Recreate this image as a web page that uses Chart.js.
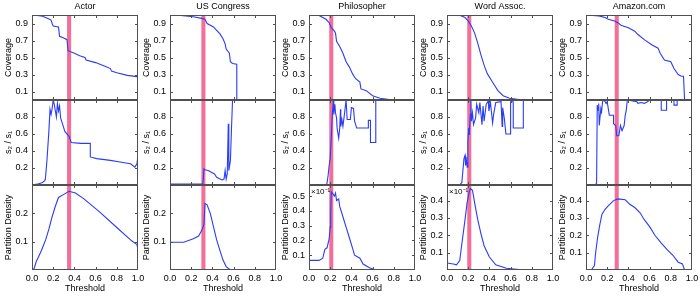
<!DOCTYPE html>
<html>
<head>
<meta charset="utf-8">
<script src="https://cdn.jsdelivr.net/npm/chart.js@4.4.1/dist/chart.umd.min.js"></script>
<style>
body { margin: 0; background: #fff; width: 700px; height: 300px; position: relative; overflow: hidden; }
.panel { position: absolute; }
</style>
</head>
<body>
<script>
// column titles and threshold marker (pink band) per column
var columns = ['Actor', 'US Congress', 'Philosopher', 'Word Assoc.', 'Amazon.com'];
var bandCenter = [0.35, 0.315, 0.21, 0.21, 0.29];
var rowTitles = ['Coverage', 's\u2082 / s\u2081', 'Partition Density'];

// y tick labels
var coverageTicks = [0.1, 0.3, 0.5, 0.7, 0.9];
var ratioTicks = [0.2, 0.4, 0.6, 0.8];
var densityTicks = [[0.1, 0.2], [0.1, 0.2], [0.1, 0.2, 0.3, 0.4, 0.5], [0.1, 0.2, 0.3, 0.4], [0.1, 0.2, 0.3, 0.4]];
var densityMax = [0.3, 0.3, 0.575, 0.49, 0.49];
var xTickStep = 0.2;

// Actor
var actorCov = [[0,1.0],[0.05,0.995],[0.1,0.985],[0.15,0.96],[0.18,0.94],[0.19,0.9],[0.2,0.87],[0.25,0.86],[0.26,0.75],[0.3,0.73],[0.33,0.71],[0.34,0.58],[0.4,0.55],[0.45,0.52],[0.5,0.5],[0.51,0.47],[0.6,0.44],[0.7,0.39],[0.74,0.37],[0.75,0.34],[0.8,0.32],[0.9,0.29],[0.99,0.275],[1.0,0.27],[1.0,0]];
var actorRatio = [[0,0],[0.05,0.01],[0.1,0.03],[0.12,0.05],[0.126,0.07],[0.14,0.27],[0.157,0.59],[0.167,0.81],[0.17,0.89],[0.18,0.83],[0.19,0.9],[0.2,1.0],[0.21,0.95],[0.23,0.8],[0.24,0.96],[0.25,0.87],[0.26,0.93],[0.27,0.79],[0.29,0.71],[0.31,0.63],[0.35,0.57],[0.37,0.5],[0.46,0.49],[0.55,0.49],[0.55,0.33],[0.61,0.31],[0.74,0.29],[0.83,0.27],[0.93,0.25],[0.97,0.21],[0.99,0.25],[0.995,0.3],[1.0,0.31]];
var actorDens = [[0,0],[0.02,0.005],[0.04,0.03],[0.06,0.045],[0.09,0.07],[0.13,0.108],[0.16,0.145],[0.19,0.188],[0.22,0.225],[0.25,0.256],[0.3,0.267],[0.35,0.278],[0.41,0.272],[0.49,0.251],[0.64,0.204],[0.8,0.15],[0.94,0.103],[0.99,0.09],[1.0,0.07],[1.0,0]];

// US Congress
var congCov = [[0,1.0],[0.1,0.995],[0.22,0.98],[0.3,0.96],[0.33,0.95],[0.35,0.9],[0.41,0.86],[0.44,0.82],[0.47,0.78],[0.5,0.72],[0.52,0.66],[0.53,0.6],[0.56,0.55],[0.57,0.45],[0.59,0.43],[0.63,0.42],[0.63,0],[1.0,0]];
var congRatio = [[0,0.01],[0.2,0.01],[0.31,0.01],[0.32,0.19],[0.33,0.18],[0.36,0.17],[0.39,0.15],[0.42,0.13],[0.44,0.09],[0.49,0.06],[0.51,0.07],[0.52,0.17],[0.53,0.07],[0.54,0.13],[0.55,0.72],[0.555,0.17],[0.57,0.29],[0.58,0.66],[0.59,1.0],[0.6,1.0]];
var congDens = [[0,0.098],[0.13,0.098],[0.22,0.11],[0.27,0.12],[0.3,0.14],[0.31,0.15],[0.32,0.16],[0.33,0.235],[0.35,0.23],[0.38,0.2],[0.41,0.153],[0.44,0.106],[0.47,0.07],[0.5,0.035],[0.53,0.012],[0.57,0],[1.0,0]];

// Philosopher
var philCov = [[0,1.0],[0.095,0.995],[0.16,0.95],[0.19,0.91],[0.21,0.85],[0.24,0.81],[0.25,0.79],[0.26,0.69],[0.29,0.63],[0.32,0.55],[0.35,0.45],[0.38,0.39],[0.41,0.31],[0.44,0.25],[0.48,0.21],[0.49,0.13],[0.54,0.11],[0.6,0.05],[0.67,0.02],[0.76,0.005],[0.85,0],[1.0,0]];
var philRatio = [[0,0],[0.156,0],[0.17,0.02],[0.18,0.11],[0.19,0.23],[0.2,0.31],[0.21,0.55],[0.22,0.83],[0.23,0.99],[0.234,0.83],[0.244,0.95],[0.25,0.85],[0.26,0.79],[0.265,0.67],[0.28,0.55],[0.29,0.67],[0.297,0.89],[0.3,0.69],[0.31,0.77],[0.32,0.69],[0.33,0.79],[0.35,1.0],[0.36,0.77],[0.39,0.77],[0.4,0.91],[0.42,0.9],[0.43,0.75],[0.45,0.67],[0.56,0.67],[0.56,0.76],[0.58,0.76],[0.58,0.5],[0.63,0.5],[0.63,1.0],[0.8,1.0]];
var philDens = [[0,0.065],[0.095,0.065],[0.13,0.08],[0.15,0.14],[0.17,0.15],[0.19,0.21],[0.2,0.29],[0.205,0.38],[0.21,0.53],[0.22,0.52],[0.24,0.5],[0.25,0.52],[0.26,0.47],[0.28,0.48],[0.29,0.43],[0.32,0.36],[0.35,0.29],[0.38,0.22],[0.41,0.15],[0.43,0.1],[0.48,0.08],[0.51,0.04],[0.57,0.015],[0.63,0],[1.0,0]];

// Word Assoc.
var wordCov = [[0,1.0],[0.12,0.998],[0.17,0.97],[0.2,0.93],[0.23,0.87],[0.26,0.79],[0.29,0.67],[0.32,0.53],[0.35,0.41],[0.38,0.31],[0.42,0.23],[0.45,0.17],[0.48,0.11],[0.53,0.05],[0.59,0.02],[0.68,0.005],[0.74,0],[1.0,0]];
var wordRatio = [[0,0],[0.12,0],[0.14,0.03],[0.16,0.31],[0.17,0.35],[0.175,0.23],[0.18,0.33],[0.19,0.21],[0.197,0.51],[0.205,0.67],[0.21,0.59],[0.22,0.83],[0.225,0.99],[0.23,0.75],[0.24,0.85],[0.25,0.71],[0.27,0.79],[0.28,0.95],[0.3,0.85],[0.31,0.97],[0.33,0.71],[0.34,0.93],[0.35,0.75],[0.37,0.95],[0.39,0.99],[0.395,0.87],[0.41,0.97],[0.43,0.73],[0.44,0.83],[0.46,0.97],[0.51,0.98],[0.52,0.69],[0.525,0.91],[0.54,0.79],[0.556,0.6],[0.6,0.6],[0.6,0.98],[0.625,0.98],[0.625,0.67],[0.72,0.67],[0.72,1.0],[0.8,1.0]];
var wordDens = [[0,0.04],[0.06,0.035],[0.09,0.03],[0.12,0.055],[0.14,0.15],[0.17,0.29],[0.19,0.39],[0.21,0.45],[0.22,0.47],[0.24,0.46],[0.26,0.39],[0.29,0.29],[0.32,0.21],[0.35,0.14],[0.4,0.075],[0.46,0.03],[0.56,0.01],[0.68,0.003],[0.75,0],[1.0,0]];

// Amazon.com
var amzCov = [[0,1.0],[0.12,0.99],[0.18,0.97],[0.21,0.95],[0.27,0.93],[0.3,0.91],[0.33,0.88],[0.4,0.85],[0.46,0.81],[0.49,0.77],[0.55,0.71],[0.62,0.65],[0.68,0.61],[0.7,0.55],[0.74,0.47],[0.8,0.45],[0.83,0.37],[0.87,0.3],[0.9,0.28],[0.92,0.28],[0.93,0],[1.0,0]];
var amzRatio = [[0,0],[0.084,0],[0.1,0.02],[0.106,0.94],[0.115,0.88],[0.12,0.96],[0.125,0.7],[0.14,0.9],[0.147,0.86],[0.156,0.98],[0.17,1.0],[0.19,0.96],[0.2,0.98],[0.22,0.82],[0.26,0.82],[0.26,0.72],[0.28,0.7],[0.29,0.58],[0.31,0.58],[0.325,0.7],[0.34,0.64],[0.36,0.7],[0.37,0.82],[0.38,0.88],[0.39,1.0],[0.48,0.98],[0.49,0.96],[0.52,0.97],[0.55,0.96],[0.58,0.98],[0.6,1.0],[0.71,1.0],[0.71,0.88],[0.76,0.88],[0.76,1.0],[0.83,1.0],[0.83,0.94],[0.86,0.94],[0.86,1.0],[0.93,1.0]];
var amzDens = [[0,0],[0.05,0],[0.08,0.025],[0.09,0.095],[0.11,0.19],[0.13,0.26],[0.15,0.32],[0.18,0.35],[0.21,0.37],[0.26,0.4],[0.3,0.41],[0.37,0.405],[0.41,0.38],[0.46,0.36],[0.51,0.33],[0.55,0.29],[0.6,0.25],[0.65,0.2],[0.71,0.155],[0.77,0.115],[0.82,0.085],[0.87,0.045],[0.91,0.035],[0.93,0],[1.0,0]];

var series = [
    [actorCov, actorRatio, actorDens],
    [congCov, congRatio, congDens],
    [philCov, philRatio, philDens],
    [wordCov, wordRatio, wordDens],
    [amzCov, amzRatio, amzDens]
];

// layout (px)
var colLeft = [32, 170, 309, 447, 586];
var rowTop = [15, 100, 185];
var areaW = 106, areaH = 85, yAxisW = 31, padRight = 8, titleH = 15, xAxisH = 25;

var font = "'Liberation Sans', Arial, Helvetica, sans-serif";
var lineColor = '#2a3cf5';
var bandColor = '#f46e98';
var frameColor = '#505050';
var bandHalf = 0.019;

Chart.defaults.font.family = font;
Chart.defaults.font.size = 9;
Chart.defaults.color = '#000';

// pink threshold band, box frame with inner ticks, exponent label
var framePlugin = {
    id: 'frame',
    beforeDatasetsDraw: function(chart, args, o) {
        var a = chart.chartArea, xs = chart.scales.x, c = chart.ctx;
        var x0 = xs.getPixelForValue(o.band - bandHalf);
        var x1 = xs.getPixelForValue(o.band + bandHalf);
        c.save();
        c.fillStyle = bandColor;
        c.fillRect(x0, a.top, x1 - x0, a.bottom - a.top);
        c.restore();
    },
    afterDatasetsDraw: function(chart, args, o) {
        var a = chart.chartArea, xs = chart.scales.x, ys = chart.scales.y, c = chart.ctx;
        c.save();
        c.strokeStyle = frameColor;
        c.lineWidth = 1;
        c.strokeRect(a.left + 0.5, a.top + 0.5, a.right - a.left - 1, a.bottom - a.top - 1);
        c.beginPath();
        xs.ticks.forEach(function(t) {
            if (t.value <= 0.001 || t.value >= 0.999) return;
            var px = Math.round(xs.getPixelForValue(t.value)) + 0.5;
            c.moveTo(px, a.bottom); c.lineTo(px, a.bottom - 3);
            c.moveTo(px, a.top); c.lineTo(px, a.top + 3);
        });
        ys.ticks.forEach(function(t) {
            var py = Math.round(ys.getPixelForValue(t.value)) + 0.5;
            c.moveTo(a.left, py); c.lineTo(a.left + 3, py);
            c.moveTo(a.right, py); c.lineTo(a.right - 3, py);
        });
        c.stroke();
        if (o.exponent) {
            c.fillStyle = '#000';
            c.font = '8px ' + font;
            c.textBaseline = 'middle';
            c.fillText('\u00d710\u207b\u00b9', a.left + 2, a.top + 7);
        }
        c.restore();
    }
};

function makePanel(col, row) {
    var div = document.createElement('div');
    div.className = 'panel';
    var h = areaH + (row === 0 ? titleH : 0) + (row === 2 ? xAxisH : 0);
    div.style.left = (colLeft[col] - yAxisW) + 'px';
    div.style.top = (rowTop[row] - (row === 0 ? titleH : 0)) + 'px';
    div.style.width = (yAxisW + areaW + padRight) + 'px';
    div.style.height = h + 'px';
    var canvas = document.createElement('canvas');
    div.appendChild(canvas);
    document.body.appendChild(div);

    var yTicks = row === 0 ? coverageTicks : (row === 1 ? ratioTicks : densityTicks[col]);
    var yMax = row === 2 ? densityMax[col] : 1;
    var pts = series[col][row];

    return new Chart(canvas, {
        type: 'line',
        data: {
            datasets: [{
                data: pts.map(function(p) { return { x: p[0], y: p[1] }; }),
                borderColor: lineColor,
                borderWidth: 1.1,
                pointRadius: 0,
                tension: 0,
                fill: false
            }]
        },
        options: {
            responsive: true,
            maintainAspectRatio: false,
            animation: false,
            events: [],
            layout: { padding: { left: 0, right: padRight, top: 0, bottom: 0 } },
            plugins: {
                legend: { display: false },
                tooltip: { enabled: false },
                title: {
                    display: row === 0,
                    text: columns[col],
                    fullSize: false,
                    padding: { top: 1, bottom: 3.2 },
                    font: { size: 9, weight: 'normal' },
                    color: '#000'
                },
                frame: { band: bandCenter[col], exponent: row === 2 && (col === 2 || col === 3) }
            },
            scales: {
                x: {
                    type: 'linear',
                    min: 0,
                    max: 1,
                    grid: { display: false, drawTicks: false },
                    border: { display: false },
                    ticks: {
                        display: row === 2,
                        stepSize: xTickStep,
                        padding: 3,
                        maxRotation: 0,
                        autoSkip: false,
                        callback: function(v) { return v.toFixed(1); }
                    },
                    title: { display: row === 2, text: 'Threshold', padding: { top: 2, bottom: 1 } },
                    afterFit: function(s) {
                        s.height = row === 2 ? xAxisH : 0;
                        s.paddingLeft = 0;
                        s.paddingRight = 0;
                    }
                },
                y: {
                    type: 'linear',
                    min: 0,
                    max: yMax,
                    grid: { display: false, drawTicks: false },
                    border: { display: false },
                    ticks: {
                        padding: 4,
                        callback: function(v) { return v.toFixed(1); }
                    },
                    afterBuildTicks: function(s) {
                        s.ticks = yTicks.map(function(v) { return { value: v }; });
                    },
                    title: { display: true, text: rowTitles[row], padding: { top: 2.5, bottom: 0 } },
                    afterFit: function(s) {
                        s.width = yAxisW;
                        s.paddingTop = 0;
                        s.paddingBottom = 0;
                    }
                }
            }
        },
        plugins: [framePlugin]
    });
}

for (var c = 0; c < columns.length; c++) {
    for (var r = 0; r < 3; r++) {
        makePanel(c, r);
    }
}
</script>
</body>
</html>
